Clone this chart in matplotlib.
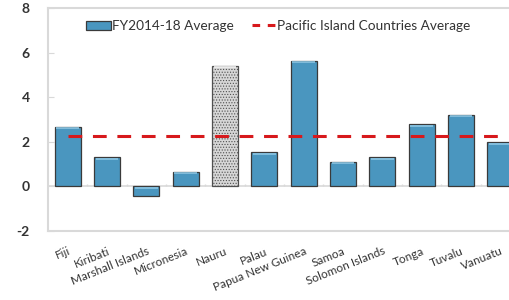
import matplotlib
matplotlib.use("Agg")
import matplotlib.pyplot as plt
import numpy as np
from matplotlib.lines import Line2D
from matplotlib.patches import Patch

plt.rcParams['font.family'] = ['Lato', 'DejaVu Sans']
plt.rcParams['hatch.color'] = "#b8b8b8"
plt.rcParams['hatch.linewidth'] = 0.5

countries = ["Fiji", "Kiribati", "Marshall Islands", "Micronesia", "Nauru", "Palau",
             "Papua New Guinea", "Samoa", "Solomon Islands", "Tonga", "Tuvalu", "Vanuatu"]
values = [2.66, 1.31, -0.42, 0.65, 5.42, 1.53, 5.64, 1.10, 1.30, 2.78, 3.20, 1.97]
pic_average = 2.27
highlight = "Nauru"
yticks = [-2, 0, 2, 4, 6, 8]

blue = "#4a96bf"
gray = "#d6d6d6"
frame = "#d9d9d9"

fig = plt.figure(figsize=(5.09, 3.0), dpi=100)
ax = fig.add_axes([48/509, 1-231/300, 472/509, 223/300])

x = np.arange(len(countries))
colors = [gray if c == highlight else blue for c in countries]
bars = ax.bar(x, values, width=0.66, color=colors, edgecolor="#3a3a3a", linewidth=0.9, zorder=3)
for b, c in zip(bars, countries):
    if c == highlight:
        b.set_hatch("......")
        b.set_edgecolor("#505050")

# top highlight on bars
for b, c, v in zip(bars, countries, values):
    top = max(v, 0)
    hc = "#f4f4f4" if c == highlight else "#8cc6e3"
    ax.plot([b.get_x()+0.04, b.get_x()+b.get_width()-0.04], [top-0.06, top-0.06],
            color=hc, lw=1.2, zorder=4, solid_capstyle='butt')

ax.plot([x[0], x[-1]], [pic_average, pic_average], color="#d7191c", lw=2.2,
        dashes=(4.5, 3.5), zorder=5)

ax.axhline(0, color=frame, lw=1.2, zorder=2)
ax.vlines(x[:-1]+0.5, 0, 0.12, color=frame, lw=1.0, zorder=2)

ax.set_xlim(-0.5, len(countries)-0.5)
ax.set_ylim(-2, 8)
ax.set_yticks(yticks)
ax.set_yticklabels([str(t) for t in yticks], fontsize=10, color="#333333", fontweight='bold')
ax.tick_params(axis='y', direction='in', length=4, color=frame, pad=13)
ax.set_xticks(x)
ax.set_xticklabels(countries, rotation=22, ha='right', va='top', rotation_mode='anchor',
                   fontsize=8.5, color="#333333")
ax.tick_params(axis='x', length=0, pad=10.5)
for s in ax.spines.values():
    s.set_color(frame)
    s.set_linewidth(1.5)

handles = [Patch(facecolor=blue, edgecolor="#3a3a3a", linewidth=0.9),
           Line2D([0], [0], color="#d7191c", lw=2.2, dashes=(2.5, 2.5))]
labels = ["FY2014-18 Average", "Pacific Island Countries Average"]
ax.legend(handles, labels, loc='upper left', bbox_to_anchor=(0.055, 1.0), ncol=2,
          frameon=False, fontsize=9.8, handlelength=1.8, handletextpad=0.1,
          columnspacing=1.3, labelcolor="#333333")

fig.savefig("out.png", dpi=100)
